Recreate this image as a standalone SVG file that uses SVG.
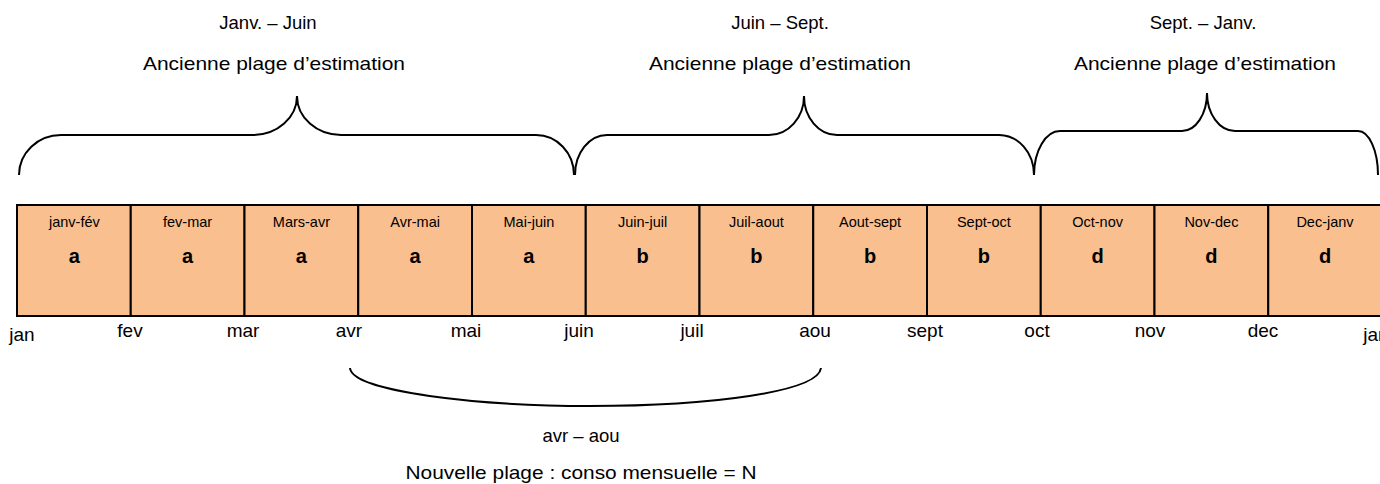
<svg xmlns="http://www.w3.org/2000/svg" width="1380" height="484" viewBox="0 0 1380 484">
<style>
text{font-family:"Liberation Sans",Arial,sans-serif;fill:#000}
.cell rect{fill:#F9BF8F;stroke:#000;stroke-width:2}
.hd{font-size:14.5px}
.lt{font-size:20px;font-weight:bold}
.lbl{font-size:18.5px}
.mo{font-size:19px}
.brace{fill:none;stroke:#000;stroke-width:2}
</style>
<rect width="1380" height="484" fill="#fff"/>
<g id="cell-janv-fev" class="cell"><rect x="17" y="205" width="113.75" height="111"/><text class="hd" x="74.4" y="227" text-anchor="middle">janv-fév</text><text class="lt" x="74.4" y="263" text-anchor="middle">a</text></g>
<g id="cell-fev-mar" class="cell"><rect x="130.75" y="205" width="113.75" height="111"/><text class="hd" x="187.6" y="227" text-anchor="middle">fev-mar</text><text class="lt" x="187.6" y="263" text-anchor="middle">a</text></g>
<g id="cell-mars-avr" class="cell"><rect x="244.5" y="205" width="113.75" height="111"/><text class="hd" x="301.4" y="227" text-anchor="middle">Mars-avr</text><text class="lt" x="301.4" y="263" text-anchor="middle">a</text></g>
<g id="cell-avr-mai" class="cell"><rect x="358.25" y="205" width="113.75" height="111"/><text class="hd" x="415.1" y="227" text-anchor="middle">Avr-mai</text><text class="lt" x="415.1" y="263" text-anchor="middle">a</text></g>
<g id="cell-mai-juin" class="cell"><rect x="472" y="205" width="113.75" height="111"/><text class="hd" x="528.9" y="227" text-anchor="middle">Mai-juin</text><text class="lt" x="528.9" y="263" text-anchor="middle">a</text></g>
<g id="cell-juin-juil" class="cell"><rect x="585.75" y="205" width="113.75" height="111"/><text class="hd" x="642.6" y="227" text-anchor="middle">Juin-juil</text><text class="lt" x="642.6" y="263" text-anchor="middle">b</text></g>
<g id="cell-juil-aout" class="cell"><rect x="699.5" y="205" width="113.75" height="111"/><text class="hd" x="756.4" y="227" text-anchor="middle">Juil-aout</text><text class="lt" x="756.4" y="263" text-anchor="middle">b</text></g>
<g id="cell-aout-sept" class="cell"><rect x="813.25" y="205" width="113.75" height="111"/><text class="hd" x="870.1" y="227" text-anchor="middle">Aout-sept</text><text class="lt" x="870.1" y="263" text-anchor="middle">b</text></g>
<g id="cell-sept-oct" class="cell"><rect x="927" y="205" width="113.75" height="111"/><text class="hd" x="983.9" y="227" text-anchor="middle">Sept-oct</text><text class="lt" x="983.9" y="263" text-anchor="middle">b</text></g>
<g id="cell-oct-nov" class="cell"><rect x="1040.75" y="205" width="113.75" height="111"/><text class="hd" x="1097.6" y="227" text-anchor="middle">Oct-nov</text><text class="lt" x="1097.6" y="263" text-anchor="middle">d</text></g>
<g id="cell-nov-dec" class="cell"><rect x="1154.5" y="205" width="113.75" height="111"/><text class="hd" x="1211.4" y="227" text-anchor="middle">Nov-dec</text><text class="lt" x="1211.4" y="263" text-anchor="middle">d</text></g>
<g id="cell-dec-janv" class="cell"><rect x="1268.25" y="205" width="113.75" height="111"/><text class="hd" x="1325" y="227" text-anchor="middle">Dec-janv</text><text class="lt" x="1325" y="263" text-anchor="middle">d</text></g>
<g id="connectors">
<path class="brace" d="M19,175 A42,40 0 0 1 61,135 H253 A44,39 0 0 0 297,96 A44,39 0 0 0 341,135 H536 A38,40 0 0 1 574,175"/>
<path class="brace" d="M575,175 A32,40 0 0 1 607,135 H769 A35,39 0 0 0 804,96 A33,39 0 0 0 837,135 H999 A35,40 0 0 1 1034,175"/>
<path class="brace" d="M1034,175 A26,44 0 0 1 1060,131 H1182 A25,38 0 0 0 1207,93 A28,38 0 0 0 1235,131 H1358 A20,44 0 0 1 1378,175"/>
<path class="brace" d="M350,368 C352,392 480,406 590,406 C710,406 818,392 821,368"/>
</g>
<g id="top-labels">
<text class="lbl" x="268" y="29" text-anchor="middle">Janv. – Juin</text>
<text class="lbl" x="274" y="70" text-anchor="middle" textLength="262" lengthAdjust="spacingAndGlyphs">Ancienne plage d’estimation</text>
<text class="lbl" x="780" y="29" text-anchor="middle">Juin – Sept.</text>
<text class="lbl" x="780" y="70" text-anchor="middle" textLength="262" lengthAdjust="spacingAndGlyphs">Ancienne plage d’estimation</text>
<text class="lbl" x="1203" y="29" text-anchor="middle">Sept. – Janv.</text>
<text class="lbl" x="1205" y="70" text-anchor="middle" textLength="262" lengthAdjust="spacingAndGlyphs">Ancienne plage d’estimation</text>
</g>
<g id="month-labels">
<text class="mo" x="22" y="341" text-anchor="middle">jan</text>
<text class="mo" x="130" y="337" text-anchor="middle">fev</text>
<text class="mo" x="243" y="337" text-anchor="middle">mar</text>
<text class="mo" x="349" y="337" text-anchor="middle">avr</text>
<text class="mo" x="466" y="337" text-anchor="middle">mai</text>
<text class="mo" x="579" y="337" text-anchor="middle">juin</text>
<text class="mo" x="692" y="337" text-anchor="middle">juil</text>
<text class="mo" x="815" y="337" text-anchor="middle">aou</text>
<text class="mo" x="925" y="337" text-anchor="middle">sept</text>
<text class="mo" x="1037" y="337" text-anchor="middle">oct</text>
<text class="mo" x="1150" y="337" text-anchor="middle">nov</text>
<text class="mo" x="1263" y="337" text-anchor="middle">dec</text>
<text class="mo" x="1376" y="341" text-anchor="middle">jan</text>
</g>
<g id="bottom-labels">
<text class="lbl" x="581" y="442" text-anchor="middle">avr – aou</text>
<text class="lbl" x="581" y="479" text-anchor="middle" textLength="351" lengthAdjust="spacingAndGlyphs">Nouvelle plage : conso mensuelle = N</text>
</g>
</svg>
